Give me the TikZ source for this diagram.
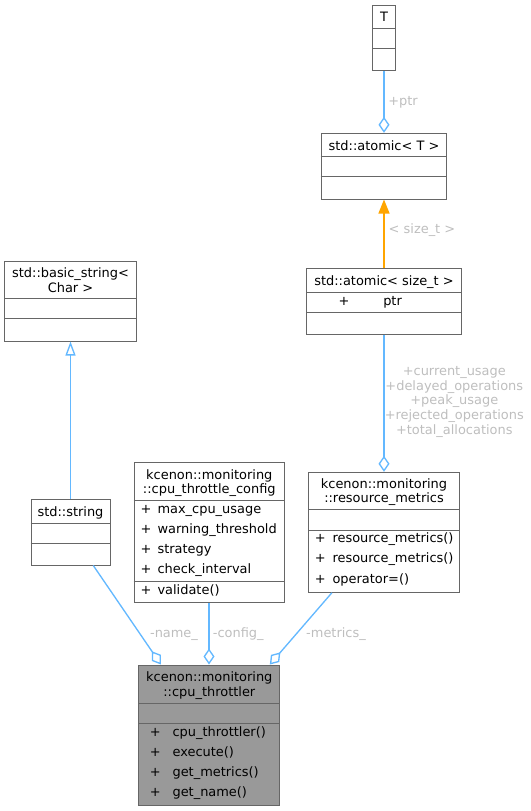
\documentclass[tikz,border=0pt]{standalone}
\usepackage{fontspec}
\setmainfont{DejaVu Sans}
\usetikzlibrary{arrows.meta}

\definecolor{boxgray}{HTML}{666666}
\definecolor{rootgray}{HTML}{999999}
\definecolor{edgeblue}{HTML}{63B8FF}
\definecolor{edgeorange}{HTML}{FFA500}
\definecolor{labelgray}{HTML}{BEBEBE}

\newlength{\pxu}
\setlength{\pxu}{0.75pt}
\newcommand{\px}[1]{#1*\pxu}
\newcommand{\cn}{\node[rectangle, draw=boxgray, line width=0.75pt, inner sep=0pt]}
\newcommand{\Cn}{\cn[fill=rootgray]}
\newcommand{\tn}{\node[inner sep=0pt, anchor=base, align=center, font=\fontsize{9.7}{10.7}\selectfont]}
\newcommand{\mn}{\tn[anchor=base west]}
\newcommand{\en}{\tn[text=labelgray, font=\fontsize{9.7}{11.1}\selectfont]}
\newcommand{\pl}[1]{\makebox[#1\pxu][l]{+}}

\tikzset{
  clsline/.style={draw=boxgray, line width=0.75pt},
  assoc/.style={draw=edgeblue, line width=1pt, -{Diamond[open, length=12pt, width=8.25pt]}},
  inherit/.style={draw=edgeblue, line width=1pt, -{Triangle[open, length=10.5pt, width=7.5pt]}},
  tmpl/.style={draw=edgeorange, line width=1pt, -{Triangle[length=10.5pt, width=8.25pt, fill=edgeorange]}}
}

\begin{document}
\begin{tikzpicture}[x=\pxu, y=-\pxu]
            \useasboundingbox (0,0) rectangle (531,811);

            % class boxes
            \cn[minimum width=\px{23}, minimum height=\px{65.7}] (T) at (384, 37.85) {};
            \cn[minimum width=\px{125.7}, minimum height=\px{65.7}] (atomT) at (384, 166.15) {};
            \cn[minimum width=\px{155}, minimum height=\px{65.7}] (atomS) at (384, 301.15) {};
            \cn[minimum width=\px{131.3}, minimum height=\px{80}] (bstr) at (70.5, 301) {};
            \cn[minimum width=\px{79}, minimum height=\px{65.7}] (str) at (70.5, 532.15) {};
            \cn[minimum width=\px{150}, minimum height=\px{140}] (cfg) at (209, 532.3) {};
            \cn[minimum width=\px{151}, minimum height=\px{120}] (rm) at (384, 532.3) {};
            \Cn[minimum width=\px{140.3}, minimum height=\px{140}] (thr) at (209, 735) {};

            % compartments
            \draw[clsline]
                (T.west |- 0,28.3) -- (T.east |- 0,28.3)
                (T.west |- 0,48.7) -- (T.east |- 0,48.7)
                (atomT.west |- 0,156.7) -- (atomT.east |- 0,156.7)
                (atomT.west |- 0,176.7) -- (atomT.east |- 0,176.7)
                (atomS.west |- 0,292.3) -- (atomS.east |- 0,292.3)
                (atomS.west |- 0,312.3) -- (atomS.east |- 0,312.3)
                (bstr.west |- 0,298.3) -- (bstr.east |- 0,298.3)
                (bstr.west |- 0,318.3) -- (bstr.east |- 0,318.3)
                (str.west |- 0,523.3) -- (str.east |- 0,523.3)
                (str.west |- 0,543.3) -- (str.east |- 0,543.3)
                (cfg.west |- 0,500) -- (cfg.east |- 0,500)
                (cfg.west |- 0,581) -- (cfg.east |- 0,581)
                (rm.west |- 0,509.3) -- (rm.east |- 0,509.3)
                (rm.west |- 0,530) -- (rm.east |- 0,530)
                (thr.west |- 0,703.3) -- (thr.east |- 0,703.3)
                (thr.west |- 0,723) -- (thr.east |- 0,723)
                ;

            % titles and members (multi-line: base is the last line)
            \tn (Tt) at (384, 21.2) {T};
            \tn (atomTt) at (384, 150) {std::atomic< T >};
            \tn (atomSt) at (384, 285.5) {std::atomic< size\_t >};
            \mn (atomSm1) at (338.3, 305.5) {\pl{44.7}ptr};
            \tn (bstrt) at (70.5, 292.2) {std::basic\_string<\\Char >};
            \tn (strt) at (70.5, 516.8) {std::string};
            \tn (cfgt) at (209.3, 493.8) {kcenon::monitoring\\::cpu\_throttle\_config};
            \mn (cfgm1) at (140.3, 513.5) {\pl{17}max\_cpu\_usage};
            \mn (cfgm2) at (140.3, 533.5) {\pl{17}warning\_threshold};
            \mn (cfgm3) at (140.3, 553.8) {\pl{17}strategy};
            \mn (cfgm4) at (140.3, 573.8) {\pl{17}check\_interval};
            \mn (cfgf1) at (140.3, 594.5) {\pl{17}validate()};
            \tn (rmt) at (384, 502.8) {kcenon::monitoring\\::resource\_metrics};
            \mn (rmf1) at (314.6, 542.8) {\pl{17.7}resource\_metrics()};
            \mn (rmf2) at (314.6, 562.8) {\pl{17.7}resource\_metrics()};
            \mn (rmf3) at (314.6, 583.5) {\pl{17.7}operator=()};
            \tn (thrt) at (209.3, 696.2) {kcenon::monitoring\\::cpu\_throttler};
            \mn (thrf1) at (149.6, 736.8) {\pl{22.7}cpu\_throttler()};
            \mn (thrf2) at (149.6, 756.8) {\pl{22.7}execute()};
            \mn (thrf3) at (149.6, 776.8) {\pl{22.7}get\_metrics()};
            \mn (thrf4) at (149.6, 796.8) {\pl{22.7}get\_name()};

            % edge labels
            \en (lptr) at (403, 105.2) {+ptr};
            \en (lsize) at (422, 233.2) {< size\_t >};
            \en (lusage) at (454.3, 434.5) {+current\_usage\\+delayed\_operations\\+peak\_usage\\+rejected\_operations\\+total\_allocations};
            \en (lname) at (174, 637.5) {-name\_};
            \en (lcfg) at (238.3, 637.5) {-config\_};
            \en (lmet) at (336, 637.5) {-metrics\_};

            \draw[assoc] (T) -- (atomT);
            \draw[tmpl] (atomS) -- (atomT);
            \draw[assoc] (atomS) -- (rm);
            \draw[inherit] (str) -- (bstr);
            \draw[assoc]
                (str) -- (thr)
                ;
            \draw[assoc] (cfg) -- (thr);
            \draw[assoc] (rm) -- (thr);
        \end{tikzpicture}
\end{document}
